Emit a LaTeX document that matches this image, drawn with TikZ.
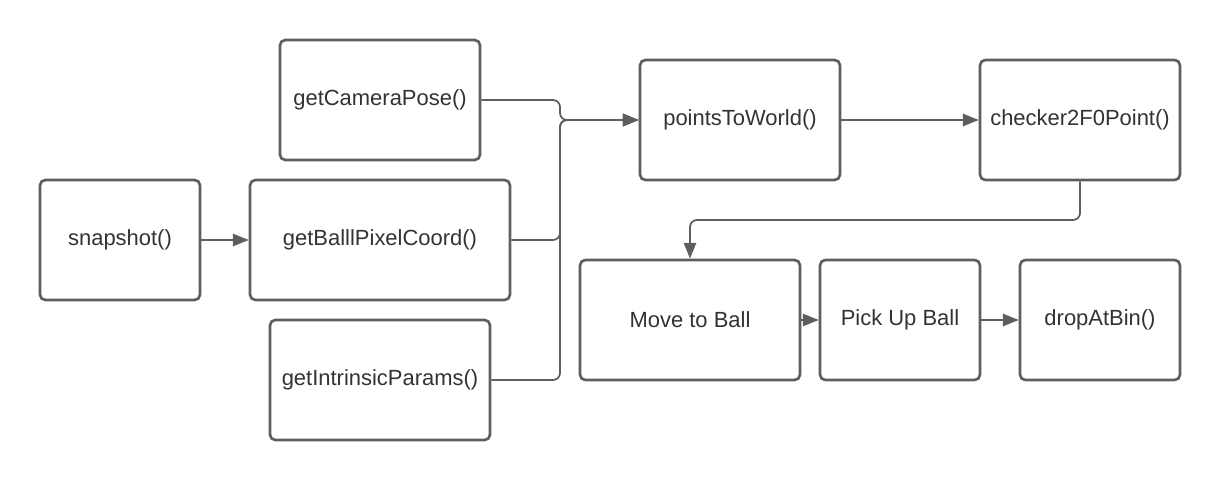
\documentclass[tikz,border=0pt]{standalone}
\usepackage{fontspec}
\setmainfont{Liberation Sans}
\usepackage{tikz}
\usetikzlibrary{arrows.meta}
\definecolor{lineGray}{HTML}{5E5E5E}
\definecolor{textGray}{HTML}{333333}
\tikzset{func box/.style={draw=lineGray,line width=1.5pt,rounded corners=3pt,fill=white,text=textGray,inner sep=0,font=\fontsize{12.5}{15}\selectfont}}
\tikzset{flow arrow/.style={draw=lineGray,line width=1pt,rounded corners=4pt,-{Triangle[width=7pt,length=9pt]}}}

\begin{document}
\begin{tikzpicture}[x=0.02cm,y=-0.02cm]

            \useasboundingbox (0, 0) rectangle (1220, 480);

            \node[func box, minimum width=3.2cm, minimum height=2.4cm] (snap) at (120, 240) {snapshot()};
            \node[func box, minimum width=4cm, minimum height=2.4cm] (pose) at (380, 100) {getCameraPose()};
            \node[func box, minimum width=5.2cm, minimum height=2.4cm] (pixel) at (380, 240) {getBalllPixelCoord()};
            \node[func box, minimum width=4.4cm, minimum height=2.4cm] (intr) at (380, 380) {getIntrinsicParams()};
            \node[func box, minimum width=4cm, minimum height=2.4cm] (world) at (740, 120) {pointsToWorld()};
            \node[func box, minimum width=4cm, minimum height=2.4cm] (checker) at (1080, 120) {checker2F0Point()};
            \node[func box, minimum width=4.4cm, minimum height=2.4cm] (move) at (690, 320) {Move to Ball};
            \node[func box, minimum width=3.2cm, minimum height=2.4cm] (pick) at (900, 320) {Pick Up Ball};
            \node[func box, minimum width=3.2cm, minimum height=2.4cm] (drop) at (1100, 320) {dropAtBin()};

            \coordinate (join) at (560, 120);

            \draw[flow arrow] (snap) -- (pixel);
            \draw[flow arrow] (pose.east) -- (560, 100) -- (join) -- (world.west);
            \draw[flow arrow] (pixel.east) -| (join) -- (world.west);
            \draw[flow arrow] (intr.east) -| (join) -- (world.west);
            \draw[flow arrow] (world) -- (checker);
            \draw[flow arrow] (checker.south) -- (1080, 220) -| (move.north);
            \draw[flow arrow] (move) -- (pick);
            \draw[flow arrow] (pick) -- (drop);

          \end{tikzpicture}
\end{document}
